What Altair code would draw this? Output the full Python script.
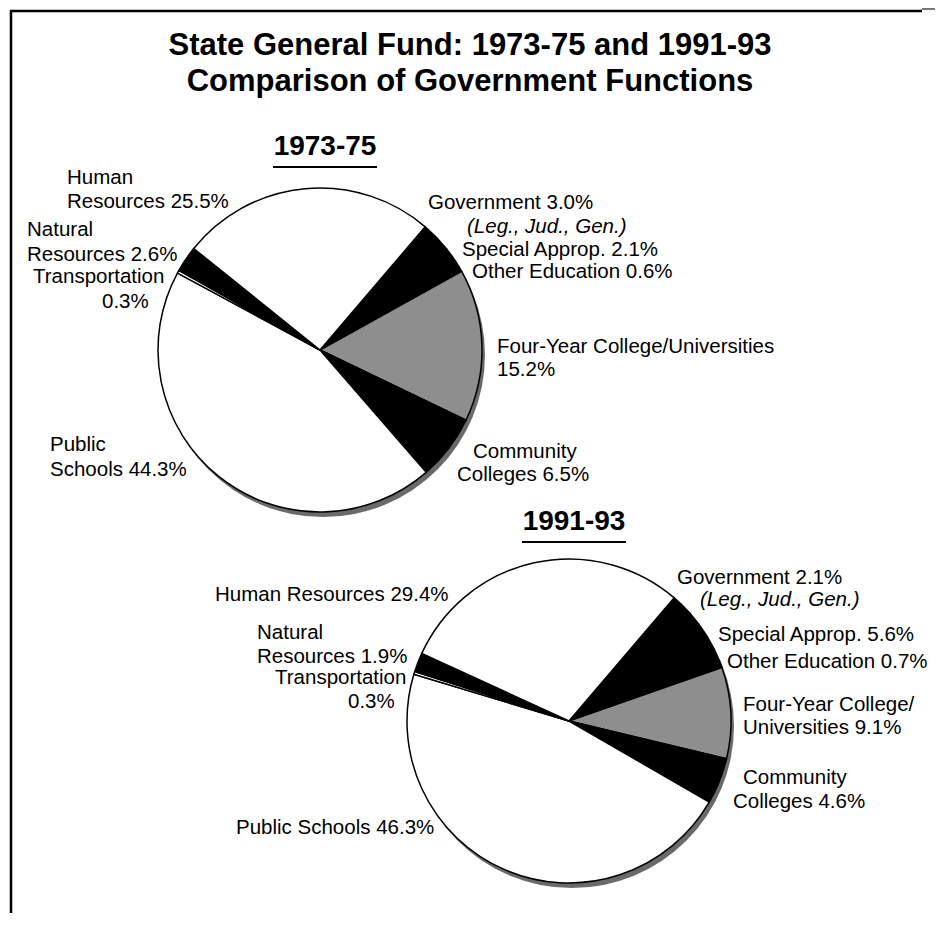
import math
import altair as alt
import pandas as pd

# ---------------- data ----------------
categories = [
    "Government (Leg., Jud., Gen.)",
    "Special Approp.",
    "Other Education",
    "Four-Year College/Universities",
    "Community Colleges",
    "Public Schools",
    "Transportation",
    "Natural Resources",
    "Human Resources",
]
share_1973_75 = [3.0, 2.1, 0.6, 15.2, 6.5, 44.3, 0.3, 2.6, 25.5]
share_1991_93 = [2.1, 5.6, 0.7, 9.1, 4.6, 46.3, 0.3, 1.9, 29.4]

title_lines = ["State General Fund: 1973-75 and 1991-93",
               "Comparison of Government Functions"]
period_titles = ["1973-75", "1991-93"]

labels_1973_75 = [
    "Human", "Resources 25.5%", "Natural", "Resources 2.6%", "Transportation",
    "0.3%", "Public", "Schools 44.3%", "Government 3.0%", "(Leg., Jud., Gen.)",
    "Special Approp. 2.1%", "Other Education 0.6%",
    "Four-Year College/Universities", "15.2%", "Community", "Colleges 6.5%",
]
labels_1991_93 = [
    "Human Resources 29.4%", "Natural", "Resources 1.9%", "Transportation",
    "0.3%", "Public Schools 46.3%", "Government 2.1%", "(Leg., Jud., Gen.)",
    "Special Approp. 5.6%", "Other Education 0.7%", "Four-Year College/",
    "Universities 9.1%", "Community", "Colleges 4.6%",
]
italic_labels = ["(Leg., Jud., Gen.)"]

# ---------------- layout (page pixel coordinates) ----------------
W, H = 927, 905
OFF = 8  # page margin
fills = ["#000000", "#000000", "#000000", "#8e8e8e", "#000000",
         "#ffffff", "#ffffff", "#000000", "#ffffff"]
pie_centers = [(320, 350), (569, 721)]
pie_radius = 162
start_angle = math.radians(40.5)

label_pos_1973_75 = [
    (67, 178), (67, 202), (27, 230), (27, 255), (33, 277), (102, 302),
    (50, 445), (50, 470), (428, 203), (467, 227), (462, 250), (472, 272),
    (497, 347), (497, 370), (473, 452), (457, 475),
]
label_pos_1991_93 = [
    (215, 595), (257, 633), (257, 657), (275, 678), (348, 702), (236, 828),
    (677, 578), (700, 600), (718, 635), (727, 662), (743, 705), (743, 728),
    (743, 778), (733, 802),
]
title_pos = [(470, 46), (470, 82)]
period_pos = [(325, 147), (574, 522)]

xs = alt.Scale(domain=[0, W], range=[0, W], nice=False, zero=False)
ys = alt.Scale(domain=[0, H], range=[0, H], nice=False, zero=False)


def X(f):
    return alt.X(f, type="quantitative", scale=xs, axis=None)


def Y(f):
    return alt.Y(f, type="quantitative", scale=ys, axis=None)


# ---------------- pies ----------------
layers = []
for (cx, cy), shares in zip(pie_centers, [share_1973_75, share_1991_93]):
    shadow = alt.Chart(pd.DataFrame({"k": [0]})).mark_arc(
        radius=pie_radius, theta=0, theta2=2 * math.pi, fill="#6a6a6a"
    ).encode(x=alt.value(cx - OFF + 3), y=alt.value(cy - OFF + 5))
    layers.append(shadow)

for (cx, cy), shares in zip(pie_centers, [share_1973_75, share_1991_93]):
    df = pd.DataFrame({"category": categories, "share": shares,
                       "idx": list(range(len(categories)))})
    total = sum(shares)
    pie = alt.Chart(df).mark_arc(
        radius=pie_radius, stroke="black", strokeWidth=1.5
    ).encode(
        theta=alt.Theta("share:Q", stack=True,
                        scale=alt.Scale(domain=[0, total],
                                        range=[start_angle, start_angle + 2 * math.pi])),
        order=alt.Order("idx:Q"),
        color=alt.Color("category:N",
                        scale=alt.Scale(domain=categories, range=fills),
                        legend=None),
        x=alt.value(cx - OFF),
        y=alt.value(cy - OFF),
    )
    layers.append(pie)

# ---------------- labels ----------------
rows = []
for texts, pos in [(labels_1973_75, label_pos_1973_75),
                   (labels_1991_93, label_pos_1991_93)]:
    for t, (px, py) in zip(texts, pos):
        rows.append({"text": t, "px": px - OFF, "py": py - OFF,
                     "italic": t in italic_labels})
lab = pd.DataFrame(rows)

normal_text = alt.Chart(lab[~lab["italic"]]).mark_text(
    align="left", baseline="middle", font="Liberation Sans", fontSize=20.5,
    color="black"
).encode(x=X("px"), y=Y("py"), text="text:N")
italic_text = alt.Chart(lab[lab["italic"]]).mark_text(
    align="left", baseline="middle", font="Liberation Sans", fontSize=20.5,
    fontStyle="italic", color="black"
).encode(x=X("px"), y=Y("py"), text="text:N")

titles = pd.DataFrame({"text": title_lines,
                       "px": [p[0] - OFF for p in title_pos],
                       "py": [p[1] - OFF for p in title_pos]})
title_text = alt.Chart(titles).mark_text(
    align="center", baseline="middle", font="Liberation Sans", fontSize=31,
    fontWeight="bold", color="black"
).encode(x=X("px"), y=Y("py"), text="text:N")

periods = pd.DataFrame({"text": period_titles,
                        "px": [p[0] - OFF for p in period_pos],
                        "py": [p[1] - OFF for p in period_pos]})
period_text = alt.Chart(periods).mark_text(
    align="center", baseline="middle", font="Liberation Sans", fontSize=28,
    fontWeight="bold", color="black"
).encode(x=X("px"), y=Y("py"), text="text:N")

underl = pd.DataFrame({
    "x1": [p[0] - OFF - 52 for p in period_pos],
    "x2": [p[0] - OFF + 52 for p in period_pos],
    "y": [p[1] - OFF + 20 for p in period_pos],
})
underline = alt.Chart(underl).mark_rule(color="black", strokeWidth=2.2).encode(
    x=X("x1"), x2="x2:Q", y=Y("y"))

# frame: top and left border lines
frame_top = alt.Chart(pd.DataFrame({"k": [0]})).mark_rule(
    color="black", strokeWidth=2.5
).encode(x=alt.value(10 - OFF), x2=alt.value(922 - OFF), y=alt.value(11 - OFF))
frame_top2 = alt.Chart(pd.DataFrame({"k": [0]})).mark_rule(
    color="#777777", strokeWidth=2
).encode(x=alt.value(922 - OFF), x2=alt.value(W), y=alt.value(9 - OFF))
frame_left = alt.Chart(pd.DataFrame({"k": [0]})).mark_rule(
    color="black", strokeWidth=2.5
).encode(x=alt.value(11 - OFF), y=alt.value(10 - OFF), y2=alt.value(H))

chart = alt.layer(
    *layers, frame_top, frame_top2, frame_left, title_text, period_text,
    underline, normal_text, italic_text
).resolve_scale(theta="independent").properties(
    width=W, height=H, padding=0, autosize=alt.AutoSizeParams(type="none"),
    background="white"
).configure_view(stroke=None)

chart.save("out.html", embed_options={"renderer": "svg", "actions": False})
